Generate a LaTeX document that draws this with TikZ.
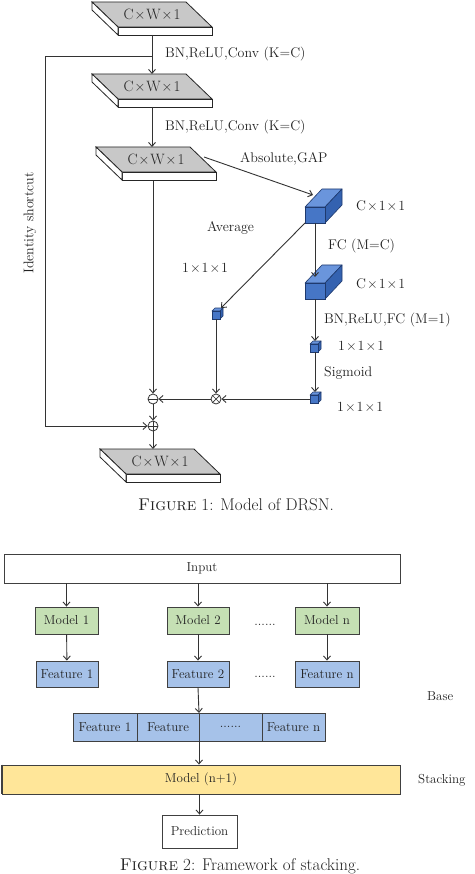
\documentclass[tikz,border=0pt]{standalone}
\usetikzlibrary{arrows.meta}
\definecolor{lc}{HTML}{333333}
\definecolor{slabgray}{HTML}{C8C8C8}
\definecolor{cfront}{HTML}{4676C6}
\definecolor{ctop}{HTML}{6A95DC}
\definecolor{cside}{HTML}{3462B0}
\definecolor{cedge}{HTML}{1F3A6E}
\definecolor{mgreen}{HTML}{C5E0B4}
\definecolor{fblue}{HTML}{A6C2E9}
\definecolor{myellow}{HTML}{FFE699}
\definecolor{txt}{HTML}{222222}
\tikzset{
  conn/.style={draw=lc, line width=0.9pt, -{Straight Barb[length=4pt,width=7pt]}},
  plainline/.style={draw=lc, line width=0.9pt},
  lab/.style={font=\fontsize{14}{16}\selectfont, text=txt, inner sep=0pt, anchor=west},
  slabtxt/.style={font=\fontsize{15}{17}\selectfont, text=txt, inner sep=0pt},
  opnode/.style={circle, draw=lc, line width=0.8pt, minimum size=10pt, inner sep=0pt},
  box/.style={draw=black!75, line width=0.9pt, inner sep=0pt, font=\fontsize{13}{15}\selectfont, text=txt},
  plainlab/.style={font=\fontsize{13}{15}\selectfont, text=txt, inner sep=0pt},
  caption/.style={font=\fontsize{17}{19}\selectfont, text=txt, inner sep=0pt, anchor=base},
}
\newcommand{\slabshape}[3]{%
  \filldraw[fill=slabgray, draw=black!85, line width=0.8pt] (#2,#3) -- ({#2+94},#3) -- ({#2+120},{#3+25}) -- ({#2+26},{#3+25}) -- cycle;
  \filldraw[fill=white, draw=black!85, line width=0.8pt] ({#2+26},{#3+25}) rectangle ({#2+120},{#3+33});
  \filldraw[fill=white, draw=black!85, line width=0.8pt] (#2,#3) -- ({#2+26},{#3+25}) -- ({#2+26},{#3+33}) -- (#2,{#3+8}) -- cycle;
  \node[slabtxt] (#1) at ({#2+60},{#3+12.5}) {C\kern1pt\texttimes\kern1pt W\kern1pt\texttimes\kern1pt 1};
}
\newcommand{\cubeshape}[7]{%
  \filldraw[fill=ctop, draw=cedge, line width=0.6pt, line join=round] (#2,#3) -- (#4,#3) -- ({#4+#6},{#3-#7}) -- ({#2+#6},{#3-#7}) -- cycle;
  \filldraw[fill=cside, draw=cedge, line width=0.6pt, line join=round] (#4,#3) -- ({#4+#6},{#3-#7}) -- ({#4+#6},{#5-#7}) -- (#4,#5) -- cycle;
  \filldraw[fill=cfront, draw=cedge, line width=0.6pt] (#2,#3) rectangle (#4,#5);
  \coordinate (#1) at ({(#2+#4)/2},{(#3+#5)/2});
}
\newcommand{\tx}{\kern1pt\texttimes\kern1pt}
\begin{document}
\begin{tikzpicture}[x=1pt,y=-1pt]
\useasboundingbox (0,0) rectangle (474,874);
\fill[white] (0,0) rectangle (474,874);

% ---------- Figure 1 ----------
\slabshape{s1}{92}{2}
\slabshape{s2}{92}{74}
\slabshape{s3}{96}{147}
\slabshape{s4}{100}{449}

\coordinate (s1out) at (152,35);
\coordinate (s2in) at (152,74);
\coordinate (s2out) at (152,107);
\coordinate (s3in) at (152,147);
\coordinate (s3out) at (153,181);
\coordinate (s3right) at (204,157);
\coordinate (s4in) at (153,449);

\draw[conn] (s1out) -- (s2in);
\draw[conn] (s2out) -- (s3in);

\cubeshape{cA}{305}{207}{325}{223}{17}{18}
\cubeshape{cB}{305}{283}{325}{299}{17}{18}
\cubeshape{cs1}{212}{311}{220}{319}{3}{3}
\cubeshape{cs2}{310}{344}{318}{352}{3}{3}
\cubeshape{cs3}{310}{395}{318}{403}{3}{3}

\coordinate (cAin) at (313,195);
\coordinate (cAbl) at (305,223);
\coordinate (cAbot) at (315,223);
\coordinate (cBin) at (315,277);
\coordinate (cBbot) at (315,299);
\coordinate (cs1in) at (221,308);
\coordinate (cs1bot) at (216,319);
\coordinate (cs2in) at (315,341);
\coordinate (cs2bot) at (315,352);
\coordinate (cs3in) at (315,392);
\coordinate (cs3left) at (310,399);

\node[opnode] (minus) at (153,399) {};
\draw[lc, line width=1pt] (minus.west) -- (minus.east);
\node[opnode] (otimes) at (216,399) {};
\draw[lc, line width=0.7pt] (otimes.north west) -- (otimes.south east) (otimes.north east) -- (otimes.south west);
\node[opnode] (oplus) at (153,426) {};
\draw[lc, line width=0.7pt] (oplus.west) -- (oplus.east) (oplus.north) -- (oplus.south);

\draw[conn] (s3right) -- (cAin);
\draw[conn] (cAbl) -- (cs1in);
\draw[conn] (cAbot) -- (cBin);
\draw[conn] (cBbot) -- (cs2in);
\draw[conn] (cs2bot) -- (cs3in);
\draw[conn] (cs3left) -- (otimes.east);
\draw[conn] (cs1bot) -- (otimes.north);
\draw[conn] (otimes.west) -- (minus.east);
\draw[conn] (s3out) -- (minus.north);
\draw[conn] (minus.south) -- (oplus.north);
\draw[conn] (oplus.south) -- (s4in);

\coordinate (sc1) at (152,56);
\coordinate (sc2) at (45,56);
\coordinate (sc3) at (45,426);
\draw[conn] (sc1) -- (sc2) -- (sc3) -- (oplus.west);

\node[lab, rotate=90, anchor=center] (idlab) at (30,223) {Identity shortcut};
\node[lab] (l1) at (165,54) {BN,ReLU,Conv (K=C)};
\node[lab] (l2) at (165,127) {BN,ReLU,Conv (K=C)};
\node[lab] (l3) at (240,159) {Absolute,GAP};
\node[lab] (l4) at (356,206) {C\tx 1\tx 1};
\node[lab] (l5) at (207,228) {Average};
\node[lab] (l6) at (328,246) {FC (M=C)};
\node[lab] (l7) at (182,268) {1\tx 1\tx 1};
\node[lab] (l8) at (356,284) {C\tx 1\tx 1};
\node[lab] (l9) at (324,320) {BN,ReLU,FC (M=1)};
\node[lab] (l10) at (338,346) {1\tx 1\tx 1};
\node[lab] (l11) at (324,373) {Sigmoid};
\node[lab] (l12) at (337,407) {1\tx 1\tx 1};

\node[caption] (cap1) at (236,510) {\textsc{Figure} 1: Model of DRSN.};

% ---------- Figure 2 ----------
\node[box, minimum width=396pt, minimum height=29pt] (input) at (202,568.5) {Input};
\node[box, fill=mgreen, minimum width=63pt, minimum height=27pt] (m1) at (66.5,620.5) {Model 1};
\node[box, fill=mgreen, minimum width=62pt, minimum height=27pt] (m2) at (198,620.5) {Model 2};
\node[box, fill=mgreen, minimum width=64pt, minimum height=27pt] (mn) at (327,620.5) {Model n};
\node[box, fill=fblue, minimum width=62pt, minimum height=26pt] (f1) at (67,674) {Feature 1};
\node[box, fill=fblue, minimum width=62pt, minimum height=26pt] (f2) at (198,674) {Feature 2};
\node[box, fill=fblue, minimum width=64pt, minimum height=26pt] (fn) at (327,674) {Feature n};
\node[plainlab] (d1) at (265,625) {......};
\node[plainlab] (d2) at (265,677) {......};
\node[plainlab, anchor=west] (base) at (427,696) {Base};

\draw[conn] (input.south -| m1) -- (m1.north);
\draw[conn] (input.south -| m2) -- (m2.north);
\draw[conn] (input.south -| mn) -- (mn.north);
\draw[conn] (m1) -- (f1);
\draw[conn] (m2) -- (f2);
\draw[conn] (mn) -- (fn);

\node[box, fill=fblue, minimum width=64pt, minimum height=28pt] (b1) at (105,727) {Feature 1};
\node[box, fill=fblue, minimum width=62pt, minimum height=28pt] (b2) at (168,727) {Feature};
\node[box, fill=fblue, minimum width=63pt, minimum height=28pt] (b3) at (230.5,727) {......};
\node[box, fill=fblue, minimum width=63pt, minimum height=28pt] (b4) at (293.5,727) {Feature n};

\node[box, fill=myellow, minimum width=398pt, minimum height=29pt] (mstack) at (201,779.5) {Model (n+1)};
\draw[black!75, line width=2pt] (mstack.north west) -- (mstack.south west);
\node[plainlab, anchor=west] (stk) at (418,780) {Stacking};
\node[box, minimum width=75pt, minimum height=33pt] (pred) at (199.5,831.5) {Prediction};

\coordinate (barin) at (199,713);
\coordinate (barout) at (199,741);
\draw[conn] (f2.south) -- (barin);
\draw[conn] (barout) -- (mstack.north -| barout);
\draw[conn] (mstack.south -| pred) -- (pred.north);

\node[caption] (cap2) at (240,870) {\textsc{Figure} 2: Framework of stacking.};
\end{tikzpicture}
\end{document}
